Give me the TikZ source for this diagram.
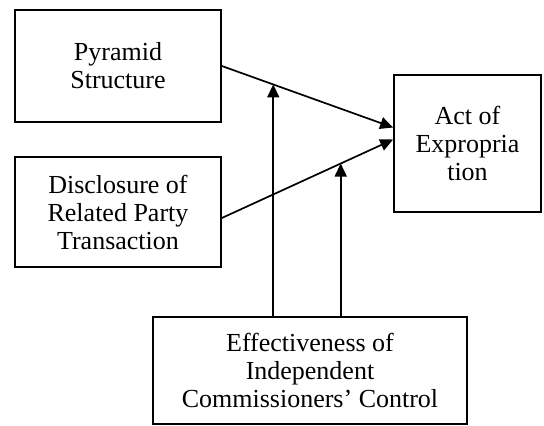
\documentclass[tikz,border=0pt]{standalone}
\usepackage{fontspec}
\setmainfont{Liberation Serif}
\usetikzlibrary{arrows.meta, positioning, calc}
\tikzset{
  varbox/.style={rectangle, draw=black, line width=1.7pt, inner sep=0pt,
    align=center, font=\fontsize{26}{28}\selectfont},
  arr/.style={-{Triangle[length=13pt, width=12pt]}, line width=1.7pt, draw=black},
}
\begin{document}
\begin{tikzpicture}[x=1pt, y=-1pt]
  \useasboundingbox (0,0) rectangle (544,426);

  % Independent variables
  \node[varbox, minimum width=206pt, minimum height=112pt] (pyr) at (118,66) {Pyramid\\Structure};
  \node[varbox, minimum width=206pt, minimum height=110pt] (disc) at (118,212) {Disclosure of\\Related Party\\Transaction};

  % Dependent variable
  \node[varbox, minimum width=147pt, minimum height=137pt] (act) at (467.5,143.5) {Act of\\Expropria\\tion};

  % Moderating variable
  \node[varbox, minimum width=314pt, minimum height=107pt] (eff) at (310,370.5) {Effectiveness of\\Independent\\Commissioners' Control};

  % Arrows
  \draw[arr] (pyr.east) -- coordinate[pos=0.3] (m1) ([yshift=16pt]act.west);
  \draw[arr] ([yshift=-6pt]disc.east) -- coordinate[pos=0.694] (m2) ([yshift=4pt]act.west);
  \draw[arr] (eff.north -| m1) -- (m1);
  \draw[arr] (eff.north -| m2) -- (m2);
\end{tikzpicture}
\end{document}
